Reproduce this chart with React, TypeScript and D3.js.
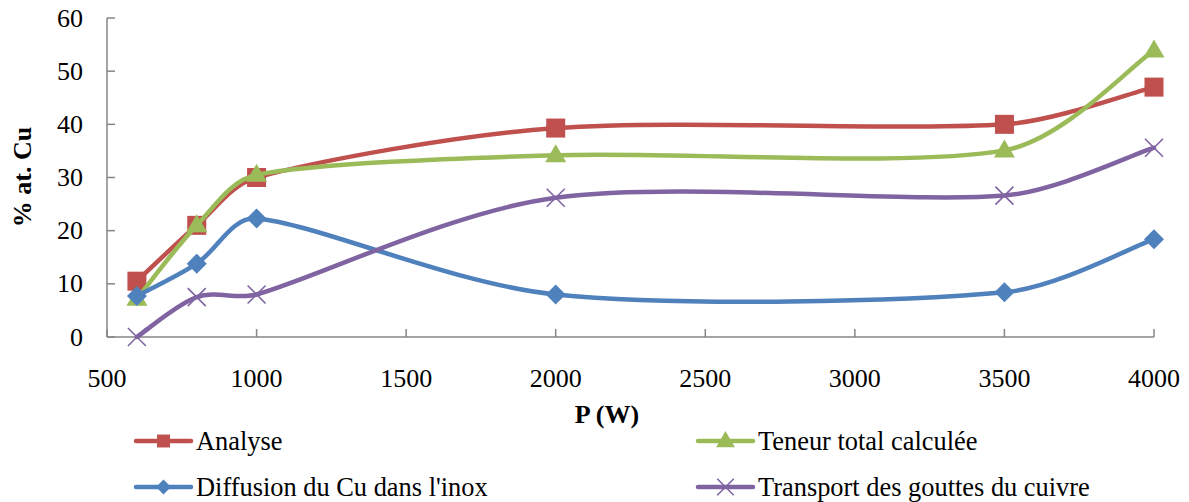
import React from "react";
import * as d3 from "d3";

const powers = [600, 800, 1000, 2000, 3500, 4000];
const analyse = [10.5, 21, 30, 39.3, 40, 47];
const teneur = [7.2, 21, 30.5, 34.2, 35.1, 53.9];
const diffusion = [7.7, 13.8, 22.3, 8.0, 8.4, 18.4];
const transport = [0, 7.5, 8.0, 26.2, 26.6, 35.6];
const xTicks = [500, 1000, 1500, 2000, 2500, 3000, 3500, 4000];
const yTicks = [0, 10, 20, 30, 40, 50, 60];

const seriesNames = ["Analyse", "Teneur total calculée", "Diffusion du Cu dans l'inox", "Transport des gouttes du cuivre"];
const seriesColors = ["#C0504D", "#9BBB59", "#4F81BD", "#8064A2"];
const seriesMarkers = ["square", "triangle", "diamond", "x"];

const W = 1189, H = 502;
const FONT = "'Liberation Serif', serif";

function Marker({ type, x, y, color, s = 1 }: { type: string; x: number; y: number; color: string; s?: number }) {
  if (type === "square") return <rect x={x - 9.5 * s} y={y - 9.5 * s} width={19 * s} height={19 * s} fill={color} />;
  if (type === "triangle")
    return <path d={`M${x},${y - 11 * s}L${x + 10.5 * s},${y + 7 * s}L${x - 10.5 * s},${y + 7 * s}Z`} fill={color} />;
  if (type === "diamond")
    return <path d={`M${x},${y - 10 * s}L${x + 10 * s},${y}L${x},${y + 10 * s}L${x - 10 * s},${y}Z`} fill={color} />;
  const r = 9 * s;
  return (
    <path d={`M${x - r},${y - r}L${x + r},${y + r}M${x - r},${y + r}L${x + r},${y - r}`} stroke={color} strokeWidth={1.6} fill="none" />
  );
}

// Excel-like smoothed line: Catmull-Rom tangents with control distance limited by segment length
function smoothPath(pts: [number, number][], k = 1 / 3): string {
  const n = pts.length;
  const get = (i: number) => pts[Math.max(0, Math.min(n - 1, i))];
  const tan = (i: number): [number, number] => {
    const a = get(i - 1), b = get(i + 1);
    return [(b[0] - a[0]) / 6, (b[1] - a[1]) / 6];
  };
  const limit = (v: [number, number], len: number): [number, number] => {
    const l = Math.hypot(v[0], v[1]);
    const m = k * len;
    if (l > m && l > 0) return [(v[0] * m) / l, (v[1] * m) / l];
    return v;
  };
  let d = `M${pts[0][0]},${pts[0][1]}`;
  for (let i = 0; i < n - 1; i++) {
    const p = pts[i], q = pts[i + 1];
    const len = Math.hypot(q[0] - p[0], q[1] - p[1]);
    const t1 = limit(tan(i), len);
    const t2 = limit(tan(i + 1), len);
    d += `C${p[0] + t1[0]},${p[1] + t1[1]},${q[0] - t2[0]},${q[1] - t2[1]},${q[0]},${q[1]}`;
  }
  return d;
}

const legendScale: Record<string, number> = { square: 0.68, triangle: 0.9, diamond: 0.75, x: 0.92 };

export default function App() {
  const x = d3.scaleLinear().domain([500, 4000]).range([107, 1154]);
  const y = d3.scaleLinear().domain([0, 60]).range([337, 18]);
  const series = [analyse, teneur, diffusion, transport];
  const axisColor = "#868686";
  const legendPos = [
    [136, 441],
    [698, 441],
    [136, 487],
    [698, 487],
  ];
  const ts = { fontFamily: FONT };
  return (
    <svg width={W} height={H} style={{ position: "absolute", left: 0, top: 0, fontFamily: FONT }}>
      <rect width={W} height={H} fill="#fff" />
      <line x1={x(500)} x2={x(4000)} y1={y(0)} y2={y(0)} stroke={axisColor} strokeWidth={1.5} />
      <line x1={x(500)} x2={x(500)} y1={y(0)} y2={y(60)} stroke={axisColor} strokeWidth={1.5} />
      {xTicks.map((t) => (
        <g key={"x" + t}>
          <line x1={x(t)} x2={x(t)} y1={y(0)} y2={y(0) - 8} stroke={axisColor} strokeWidth={1.5} />
          <text x={x(t)} y={387} textAnchor="middle" fontSize={26} fill="#000" style={ts}>
            {t}
          </text>
        </g>
      ))}
      {yTicks.map((t) => (
        <g key={"y" + t}>
          <line x1={x(500)} x2={x(500) + 8} y1={y(t)} y2={y(t)} stroke={axisColor} strokeWidth={1.5} />
          <text x={83} y={y(t) + 8.5} textAnchor="end" fontSize={26} fill="#000" style={ts}>
            {t}
          </text>
        </g>
      ))}
      <text x={607} y={423} textAnchor="middle" fontSize={26} fontWeight="bold" style={ts}>
        P (W)
      </text>
      <text transform={`translate(31,177) rotate(-90)`} textAnchor="middle" fontSize={26} fontWeight="bold" style={ts}>
        % at. Cu
      </text>
      {series.map((vals, i) => {
        const pts = powers.map((p, j) => [x(p), y(vals[j])] as [number, number]);
        return (
          <g key={"s" + i}>
            <path d={smoothPath(pts)} fill="none" stroke={seriesColors[i]} strokeWidth={4.5} strokeLinecap="round" />
            {pts.map((p, j) => (
              <Marker key={j} type={seriesMarkers[i]} x={p[0]} y={p[1]} color={seriesColors[i]} />
            ))}
          </g>
        );
      })}
      {seriesNames.map((n, i) => {
        const [lx, ly] = legendPos[i];
        return (
          <g key={"l" + i}>
            <line x1={lx} x2={lx + 55} y1={ly} y2={ly} stroke={seriesColors[i]} strokeWidth={4.5} strokeLinecap="round" />
            <Marker type={seriesMarkers[i]} x={lx + 27.5} y={ly} color={seriesColors[i]} s={legendScale[seriesMarkers[i]]} />
            <text x={lx + 60} y={ly + 8.5} fontSize={26.4} fill="#000" style={ts}>
              {n}
            </text>
          </g>
        );
      })}
    </svg>
  );
}
